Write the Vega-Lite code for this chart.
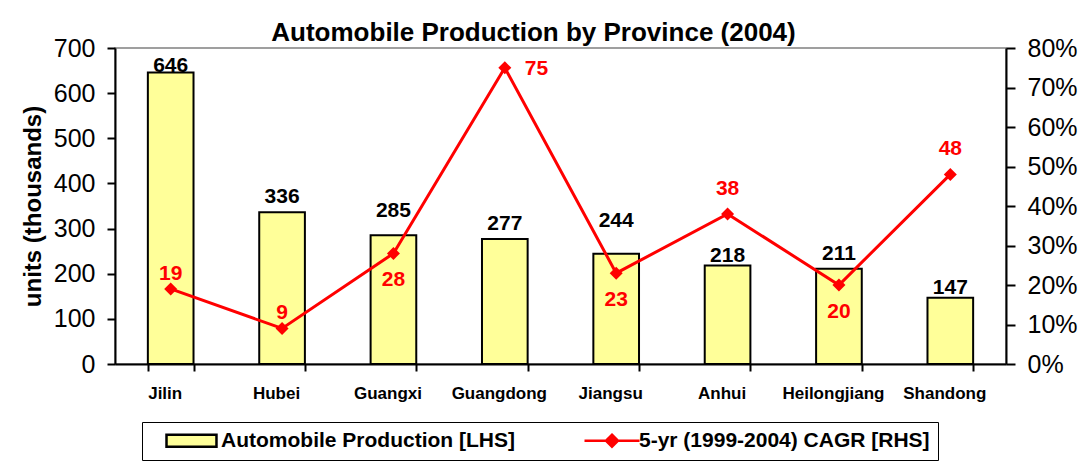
{
  "$schema": "https://vega.github.io/schema/vega-lite/v6.json",
  "autosize": {"type": "none"},
  "padding": {"left": 115, "top": 48, "right": 73, "bottom": 99},
  "width": 891,
  "height": 316,
  "background": "white",
  "title": {"text": "Automobile Production by Province (2004)", "font": "Liberation Sans", "fontSize": 26, "fontWeight": "bold", "color": "black", "anchor": "middle", "dx": -27, "offset": -10},
  "config": {
    "view": {"stroke": "#808080", "strokeWidth": 1.5},
    "axis": {"grid": false, "domainColor": "black", "tickColor": "black", "domainWidth": 2, "tickWidth": 2, "labelFont": "Liberation Sans", "titleFont": "Liberation Sans", "labelColor": "black", "titleColor": "black", "labelOverlap": false},
    "legend": {"orient": "none", "legendX": 27, "legendY": 374, "direction": "horizontal", "strokeColor": "black", "padding": 8,
      "labelFont": "Liberation Sans", "labelFontSize": 21, "labelFontWeight": "bold", "labelColor": "black", "labelLimit": 0,
      "symbolSize": 144, "symbolStrokeWidth": 2.5, "symbolOffset": 12, "labelOffset": 38, "columnPadding": 53, "symbolOpacity": 1}
  },
  "data": {"values": [
    {"province": "Jilin", "production": 646, "cagr": 19},
    {"province": "Hubei", "production": 336, "cagr": 9},
    {"province": "Guangxi", "production": 285, "cagr": 28},
    {"province": "Guangdong", "production": 277, "cagr": 75},
    {"province": "Jiangsu", "production": 244, "cagr": 23},
    {"province": "Anhui", "production": 218, "cagr": 38},
    {"province": "Heilongjiang", "production": 211, "cagr": 20},
    {"province": "Shandong", "production": 147, "cagr": 48}
  ]},
  "encoding": {
    "x": {"field": "province", "type": "nominal", "sort": null,
      "scale": {"paddingInner": 0.59, "paddingOuter": 0.295},
      "axis": {"title": null, "labelAngle": 0, "labelFontSize": 17, "labelFontWeight": "bold", "tickSize": 7, "tickBand": "extent", "labelPadding": 14, "labelOffset": -6}}
  },
  "layer": [
    {
      "encoding": {
        "y": {"field": "production", "type": "quantitative", "scale": {"domain": [0, 700]},
          "axis": {"title": "units (thousands)", "titleFontSize": 24, "titleFontWeight": "bold", "titlePadding": 8, "values": [0,100,200,300,400,500,600,700], "labelFontSize": 25, "tickSize": 8, "labelPadding": 12}}
      },
      "layer": [
        {
          "mark": {"type": "bar", "strokeWidth": 2},
          "encoding": {
            "fill": {"datum": "Automobile Production [LHS]", "type": "nominal",
              "scale": {"domain": ["Automobile Production [LHS]", "5-yr (1999-2004) CAGR [RHS]"], "range": ["#FFFF99", "#FF0000"]},
              "legend": {"title": null}},
            "stroke": {"datum": "Automobile Production [LHS]", "type": "nominal",
              "scale": {"domain": ["Automobile Production [LHS]", "5-yr (1999-2004) CAGR [RHS]"], "range": ["black", "#FF0000"]},
              "legend": {"title": null}}
          }
        },
        {
          "transform": [{"filter": {"field": "province", "oneOf": ["Jilin"]}}],
          "mark": {"type": "text", "font": "Liberation Sans", "fontSize": 21, "fontWeight": "bold", "baseline": "alphabetic", "dy": 0, "color": "black"},
          "encoding": {"text": {"field": "production", "type": "quantitative"}}
        },
        {
          "transform": [{"filter": {"field": "province", "oneOf": ["Anhui", "Shandong"]}}],
          "mark": {"type": "text", "font": "Liberation Sans", "fontSize": 21, "fontWeight": "bold", "baseline": "alphabetic", "dy": -4, "color": "black"},
          "encoding": {"text": {"field": "production", "type": "quantitative"}}
        },
        {
          "transform": [{"filter": {"field": "province", "oneOf": ["Hubei", "Guangdong", "Heilongjiang"]}}],
          "mark": {"type": "text", "font": "Liberation Sans", "fontSize": 21, "fontWeight": "bold", "baseline": "alphabetic", "dy": -9, "color": "black"},
          "encoding": {"text": {"field": "production", "type": "quantitative"}}
        },
        {
          "transform": [{"filter": {"field": "province", "oneOf": ["Guangxi"]}}],
          "mark": {"type": "text", "font": "Liberation Sans", "fontSize": 21, "fontWeight": "bold", "baseline": "alphabetic", "dy": -18, "color": "black"},
          "encoding": {"text": {"field": "production", "type": "quantitative"}}
        },
        {
          "transform": [{"filter": {"field": "province", "oneOf": ["Jiangsu"]}}],
          "mark": {"type": "text", "font": "Liberation Sans", "fontSize": 21, "fontWeight": "bold", "baseline": "alphabetic", "dy": -27, "color": "black"},
          "encoding": {"text": {"field": "production", "type": "quantitative"}}
        }
      ]
    },
    {
      "encoding": {
        "y": {"field": "cagr", "type": "quantitative", "scale": {"domain": [0, 80]},
          "axis": {"orient": "right", "title": null, "values": [0,10,20,30,40,50,60,70,80], "labelExpr": "datum.value + '%'", "labelFontSize": 25, "tickSize": 9, "labelPadding": 12}}
      },
      "layer": [
        {
          "mark": {"type": "line", "strokeWidth": 3, "point": {"shape": "diamond", "size": 170, "filled": true, "fill": "#FF0000", "stroke": "#FF0000", "strokeWidth": 0, "opacity": 1}},
          "encoding": {
            "stroke": {"datum": "5-yr (1999-2004) CAGR [RHS]", "type": "nominal", "legend": {"title": null}}
          }
        },
        {
          "transform": [{"filter": {"field": "province", "oneOf": ["Jilin", "Hubei"]}}],
          "mark": {"type": "text", "font": "Liberation Sans", "fontSize": 21, "fontWeight": "bold", "color": "#FF0000", "baseline": "middle", "dy": -15},
          "encoding": {"text": {"field": "cagr", "type": "quantitative"}}
        },
        {
          "transform": [{"filter": {"field": "province", "oneOf": ["Anhui", "Shandong"]}}],
          "mark": {"type": "text", "font": "Liberation Sans", "fontSize": 21, "fontWeight": "bold", "color": "#FF0000", "baseline": "middle", "dy": -25},
          "encoding": {"text": {"field": "cagr", "type": "quantitative"}}
        },
        {
          "transform": [{"filter": {"field": "province", "oneOf": ["Guangxi", "Jiangsu", "Heilongjiang"]}}],
          "mark": {"type": "text", "font": "Liberation Sans", "fontSize": 21, "fontWeight": "bold", "color": "#FF0000", "baseline": "middle", "dy": 27},
          "encoding": {"text": {"field": "cagr", "type": "quantitative"}}
        },
        {
          "transform": [{"filter": {"field": "province", "oneOf": ["Guangdong"]}}],
          "mark": {"type": "text", "font": "Liberation Sans", "fontSize": 21, "fontWeight": "bold", "color": "#FF0000", "align": "left", "baseline": "middle", "dx": 20, "dy": 1},
          "encoding": {"text": {"field": "cagr", "type": "quantitative"}}
        }
      ]
    },
    {
      "transform": [{"filter": "datum.production < 0"}],
      "mark": {"type": "point", "filled": true, "opacity": 1},
      "encoding": {
        "fill": {"datum": "Automobile Production [LHS]", "type": "nominal", "legend": {"title": null}},
        "stroke": {"datum": "Automobile Production [LHS]", "type": "nominal", "legend": {"title": null}},
        "shape": {"datum": "Automobile Production [LHS]", "type": "nominal",
          "scale": {"domain": ["Automobile Production [LHS]", "5-yr (1999-2004) CAGR [RHS]"], "range": ["M-1,-1H7.33V1H-1Z", "M-1,0H8.17M3.58,-1L4.58,0L3.58,1L2.58,0Z"]},
          "legend": {"title": null}}
      }
    }
  ],
  "resolve": {"scale": {"y": "independent"}}
}
